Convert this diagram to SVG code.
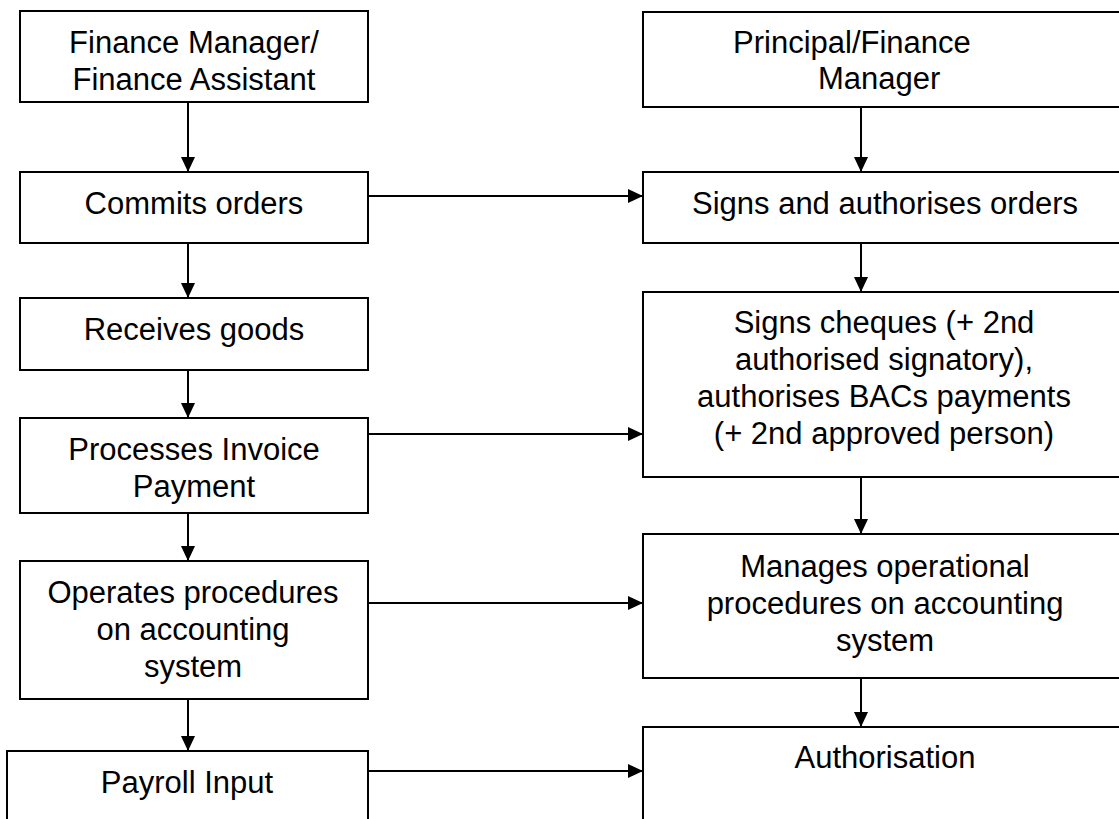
<svg xmlns="http://www.w3.org/2000/svg" width="1119" height="819" viewBox="0 0 1119 819">
<defs>
<style>
.box{fill:#fff;stroke:#000;stroke-width:2}
.t{font-family:"Liberation Sans",Arial,sans-serif;font-size:31px;fill:#000;text-anchor:middle}
.ts{font-family:"Liberation Sans",Arial,sans-serif;font-size:31px;fill:#000}
.c{stroke:#000;stroke-width:2;fill:none;marker-end:url(#ah)}
</style>
<marker id="ah" markerUnits="userSpaceOnUse" markerWidth="16" markerHeight="16" viewBox="0 0 16 16" refX="15" refY="8" orient="auto">
<path d="M0,1 L15,8 L0,15 Z" fill="#000"/>
</marker>
</defs>
<rect width="1119" height="819" fill="#fff"/>
<g id="connectors">
<line class="c" x1="188" y1="102" x2="188" y2="172"/>
<line class="c" x1="188" y1="243" x2="188" y2="298"/>
<line class="c" x1="188" y1="370" x2="188" y2="418"/>
<line class="c" x1="188" y1="513" x2="188" y2="561"/>
<line class="c" x1="188" y1="699" x2="188" y2="751"/>
<line class="c" x1="861" y1="107" x2="861" y2="172"/>
<line class="c" x1="861" y1="243" x2="861" y2="292"/>
<line class="c" x1="861" y1="477" x2="861" y2="534"/>
<line class="c" x1="861" y1="678" x2="861" y2="727"/>
<line class="c" x1="368" y1="196" x2="643" y2="196"/>
<line class="c" x1="368" y1="434" x2="643" y2="434"/>
<line class="c" x1="368" y1="603" x2="643" y2="603"/>
<line class="c" x1="368" y1="771" x2="643" y2="771"/>
</g>
<g id="n1"><rect class="box" x="20" y="11" width="348" height="91"/>
<text class="t" x="194" y="53">Finance Manager/</text><text class="t" x="194" y="90">Finance Assistant</text></g>
<g id="n2"><rect class="box" x="20" y="172" width="348" height="71"/>
<text class="t" x="194" y="214">Commits orders</text></g>
<g id="n3"><rect class="box" x="20" y="298" width="348" height="72"/>
<text class="t" x="194" y="340">Receives goods</text></g>
<g id="n4"><rect class="box" x="20" y="418" width="348" height="95"/>
<text class="t" x="194" y="460">Processes Invoice</text><text class="t" x="194" y="497">Payment</text></g>
<g id="n5"><rect class="box" x="20" y="561" width="348" height="138"/>
<text class="t" x="193" y="603">Operates procedures</text><text class="t" x="193" y="640">on accounting</text><text class="t" x="193" y="677">system</text></g>
<g id="n6"><rect class="box" x="7" y="751" width="361" height="80"/>
<text class="t" x="187" y="793">Payroll Input</text></g>
<g id="n7"><rect class="box" x="643" y="12" width="490" height="95"/>
<text class="ts" x="733" y="53">Principal/Finance</text><text class="ts" x="818" y="89">Manager</text></g>
<g id="n8"><rect class="box" x="643" y="172" width="490" height="71"/>
<text class="t" x="885" y="214">Signs and authorises orders</text></g>
<g id="n9"><rect class="box" x="643" y="292" width="490" height="185"/>
<text class="t" x="884" y="333">Signs cheques (+ 2nd</text><text class="t" x="884" y="370">authorised signatory),</text><text class="t" x="884" y="407">authorises BACs payments</text><text class="t" x="884" y="444">(+ 2nd approved person)</text></g>
<g id="n10"><rect class="box" x="643" y="534" width="490" height="144"/>
<text class="t" x="885" y="577">Manages operational</text><text class="t" x="885" y="614">procedures on accounting</text><text class="t" x="885" y="651">system</text></g>
<g id="n11"><rect class="box" x="643" y="727" width="490" height="110"/>
<text class="t" x="885" y="768">Authorisation</text></g>
</svg>
